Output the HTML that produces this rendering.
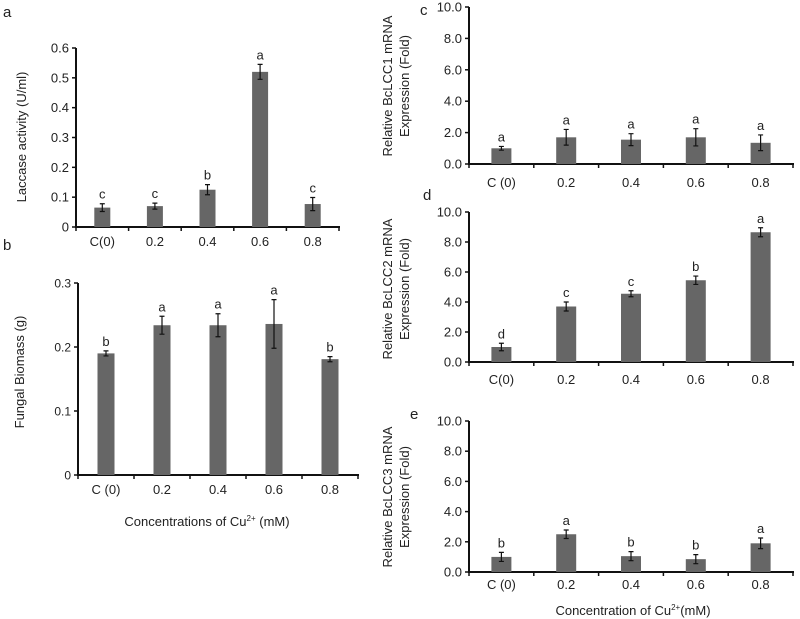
<!DOCTYPE html>
<html><head><meta charset="utf-8"><style>
body{margin:0;background:#fff;}
svg{display:block;font-family:"Liberation Sans",Arial,sans-serif;}
text{fill:#222;}
</style></head><body>
<svg id="fig" width="800" height="619" viewBox="0 0 800 619"></svg>
<script>
const categoriesA=["C(0)","0.2","0.4","0.6","0.8"];
const categoriesB=["C (0)","0.2","0.4","0.6","0.8"];
const categoriesE=["C (0)","0.2","0.4","0.6","0.8"];
const laccaseValues=[0.065,0.07,0.125,0.52,0.077];
const laccaseErr=[0.013,0.01,0.017,0.025,0.022];
const laccaseLetters=["c","c","b","a","c"];
const laccaseTicks=["0","0.1","0.2","0.3","0.4","0.5","0.6"];
const biomassValues=[0.19,0.234,0.234,0.236,0.181];
const biomassErr=[0.004,0.014,0.018,0.038,0.004];
const biomassLetters=["b","a","a","a","b"];
const biomassTicks=["0","0.1","0.2","0.3"];
const lcc1Values=[1.0,1.7,1.55,1.7,1.35];
const lcc1Err=[0.12,0.5,0.38,0.55,0.5];
const lcc1Letters=["a","a","a","a","a"];
const lcc2Values=[1.0,3.7,4.55,5.45,8.65];
const lcc2Err=[0.25,0.3,0.2,0.28,0.3];
const lcc2Letters=["d","c","c","b","a"];
const lcc3Values=[1.0,2.5,1.05,0.85,1.9];
const lcc3Err=[0.3,0.28,0.3,0.3,0.35];
const lcc3Letters=["b","a","b","b","a"];
const foldTicks=["0.0","2.0","4.0","6.0","8.0","10.0"];

const NS="http://www.w3.org/2000/svg";
const svg=document.getElementById('fig');
function mk(tag,attrs,parent,txt){const e=document.createElementNS(NS,tag);for(const k in attrs)e.setAttribute(k,attrs[k]);if(txt!==undefined)e.textContent=txt;(parent||svg).appendChild(e);return e;}

function panel(p){
  const g=mk('g',{},svg);
  
  
  const yMax=parseFloat(p.ticks[p.ticks.length-1]);
  const y=v=>p.y0-(v/yMax)*(p.y0-p.yTop);
  const n=p.cats.length;
  const step=(p.xEnd-p.x0)/n;
  const x=i=>p.x0+step*(i+0.5);
  const ya=mk('line',{x1:p.x0,y1:p.yTop,x2:p.x0,y2:p.y0,stroke:'#111','stroke-width':2},g);
  
  
  const xa=mk('line',{x1:p.x0-1,y1:p.y0,x2:p.xEnd+1,y2:p.y0,stroke:'#111','stroke-width':2},g);
  
  
  p.ticks.forEach(t=>{
    const v=parseFloat(t);
    mk('line',{x1:p.x0-4,y1:y(v),x2:p.x0,y2:y(v),stroke:'#111','stroke-width':1.5},g);
    const tl=mk('text',{x:p.x0-7,y:y(v)+4.5,'text-anchor':'end','font-size':p.fs||13},g,t);
    
    
  });
  for(let i=0;i<=n;i++){mk('line',{x1:p.x0+step*i,y1:p.y0,x2:p.x0+step*i,y2:p.y0+4,stroke:'#111','stroke-width':1.5},g);}
  p.cats.forEach((c,i)=>{
    const v=p.vals[i],e=p.err[i];
    const b=mk('rect',{x:x(i)-p.bw/2,y:y(v),width:p.bw,height:p.y0-y(v),fill:'#666'},g);
    
    
    const eb=mk('path',{d:`M${x(i)},${y(v+e)}V${y(v-e)}M${x(i)-2.5},${y(v+e)}h5M${x(i)-2.5},${y(v-e)}h5`,stroke:'#111','stroke-width':1.2,fill:'none'},g);
    
    
    const lt=mk('text',{x:x(i),y:y(v+e)-5,'text-anchor':'middle','font-size':13},g,p.letters[i]);
    
    
    const xl=mk('text',{x:x(i),y:p.labY,'text-anchor':'middle','font-size':13},g,c);
    
    
  });
}
panel({name:'chart-a-laccase',cats:categoriesA,vals:laccaseValues,err:laccaseErr,letters:laccaseLetters,ticks:laccaseTicks,x0:76,xEnd:339,yTop:48,y0:227,bw:16,labY:246});
panel({name:'chart-b-biomass',cats:categoriesB,vals:biomassValues,err:biomassErr,letters:biomassLetters,ticks:biomassTicks,x0:78,xEnd:358,yTop:283,y0:475,bw:17,labY:494,fs:12});
panel({name:'chart-c-lcc1',cats:categoriesB,vals:lcc1Values,err:lcc1Err,letters:lcc1Letters,ticks:foldTicks,x0:469,xEnd:793,yTop:7,y0:164,bw:20,labY:187});
panel({name:'chart-d-lcc2',cats:categoriesA,vals:lcc2Values,err:lcc2Err,letters:lcc2Letters,ticks:foldTicks,x0:469,xEnd:793,yTop:212,y0:362,bw:20,labY:384});
panel({name:'chart-e-lcc3',cats:categoriesE,vals:lcc3Values,err:lcc3Err,letters:lcc3Letters,ticks:foldTicks,x0:469,xEnd:793,yTop:421,y0:572,bw:20,labY:589});

function label(txt,xx,yy,name,opts){const t=mk('text',Object.assign({x:xx,y:yy,'font-size':13},opts||{}),svg,txt);return t;}
label('a',3,17,'panel-letter-a',{'font-size':15});
label('b',3,250,'panel-letter-b',{'font-size':15});
label('c',420,15,'panel-letter-c',{'font-size':15});
label('d',423,200,'panel-letter-d',{'font-size':15});
label('e',410,419,'panel-letter-e',{'font-size':15});
label('Laccase activity (U/ml)',0,0,'y-axis-title-a',{transform:'translate(26,137) rotate(-90)','text-anchor':'middle','font-size':13});
label('Fungal Biomass (g)',0,0,'y-axis-title-b',{transform:'translate(24,372) rotate(-90)','text-anchor':'middle','font-size':13});
[['BcLCC1',86],['BcLCC2',289],['BcLCC3',497]].forEach(([g,cy],k)=>{
  label('Relative  '+g+'  mRNA',0,0,'y-axis-title-'+['c','d','e'][k]+'-line1',{transform:`translate(392,${cy}) rotate(-90)`,'text-anchor':'middle','font-size':13,'xml:space':'preserve'});
  label('Expression (Fold)',0,0,'y-axis-title-'+['c','d','e'][k]+'-line2',{transform:`translate(409,${cy}) rotate(-90)`,'text-anchor':'middle','font-size':13});
});
const t1=label('',207,526,'x-axis-title-left',{'text-anchor':'middle','font-size':13});
t1.innerHTML='Concentrations of Cu<tspan font-size="8" dy="-5">2+</tspan><tspan dy="5"> (mM)</tspan>';
const t2=label('',633,615,'x-axis-title-right',{'text-anchor':'middle','font-size':13});
t2.innerHTML='Concentration of Cu<tspan font-size="8" dy="-5">2+</tspan><tspan dy="5">(mM)</tspan>';
</script>
</body></html>
